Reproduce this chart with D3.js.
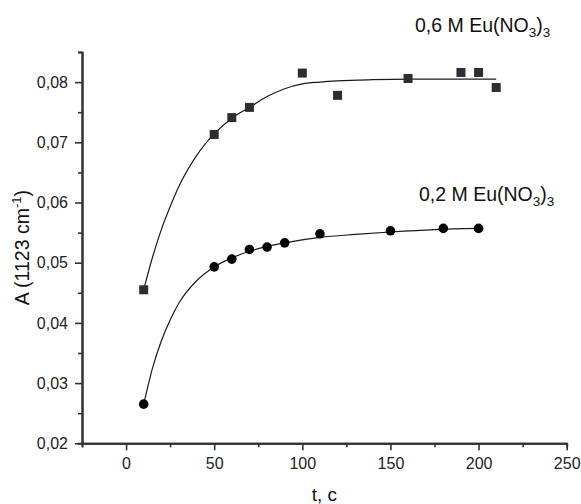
<!DOCTYPE html>
<html>
<head>
<meta charset="utf-8">
<script src="https://cdn.jsdelivr.net/npm/d3@7"></script>
<style>
  html, body { margin: 0; padding: 0; background: #fff; }
  svg { display: block; font-family: "Liberation Sans", Arial, sans-serif; }
</style>
</head>
<body>
<svg id="chart" width="581" height="504"></svg>
<script>
// Absorbance at 1123 cm-1 versus time for two Eu(NO3)3 concentrations
const timeHigh = [10, 50, 60, 70, 100, 120, 160, 190, 200, 210];
const absHigh  = [0.0455, 0.0713, 0.0741, 0.0758, 0.0815, 0.0778, 0.0806, 0.0816, 0.0816, 0.0791];

const timeLow = [10, 50, 60, 70, 80, 90, 110, 150, 180, 200];
const absLow  = [0.0265, 0.0493, 0.0506, 0.0522, 0.0526, 0.0533, 0.0548, 0.0553, 0.0557, 0.0557];

// Smoothed fit curves (time, absorbance)
const fitHighT = [10, 15, 20, 25, 30, 40, 50, 60, 70, 80, 90, 100, 110, 120, 140, 160, 210];
const fitHighA = [0.0455, 0.0509, 0.0555, 0.0593, 0.0627, 0.0678, 0.0714, 0.0740, 0.0758, 0.0776, 0.0789, 0.0797, 0.0800, 0.0802, 0.0804, 0.0805, 0.0805];
const fitLowT = [10, 15, 20, 25, 30, 40, 50, 60, 70, 80, 90, 110, 130, 150, 175, 200];
const fitLowA = [0.0265, 0.0325, 0.0370, 0.0405, 0.0433, 0.0470, 0.0493, 0.0508, 0.0519, 0.0527, 0.0533, 0.0542, 0.0547, 0.0551, 0.0555, 0.0557];

const xMajor = [0, 50, 100, 150, 200, 250];
const xMinor = [-25, 25, 75, 125, 175, 225];
const yMajor = [0.02, 0.03, 0.04, 0.05, 0.06, 0.07, 0.08];
const yMinor = [0.025, 0.035, 0.045, 0.055, 0.065, 0.075, 0.085];

const svg = d3.select("#chart");
const axisColor = "#333";

const x = d3.scaleLinear().domain([-25, 250]).range([82, 566.7]);
const y = d3.scaleLinear().domain([0.02, 0.085]).range([443.3, 52]);

const comma = v => d3.format(".2f")(v).replace(".", ",");

function styleAxis(g) {
  g.selectAll("path.domain").attr("stroke", axisColor).attr("stroke-width", 2);
  g.selectAll(".tick line").attr("stroke", axisColor).attr("stroke-width", 1.6);
  g.selectAll(".tick text").attr("fill", "#222").style("font-size", "16px")
    .style("font-family", "'Liberation Sans', Arial, sans-serif");
}

// Minor ticks
svg.append("g").attr("transform", `translate(0,${y(0.02)})`)
  .call(d3.axisBottom(x).tickValues(xMinor).tickSize(4).tickFormat(""))
  .call(styleAxis);
svg.append("g").attr("transform", `translate(${x(-25)},0)`)
  .call(d3.axisLeft(y).tickValues(yMinor).tickSize(4).tickFormat(""))
  .call(styleAxis);

// Major ticks with labels
svg.append("g").attr("transform", `translate(0,${y(0.02)})`)
  .call(d3.axisBottom(x).tickValues(xMajor).tickSize(7).tickSizeOuter(0).tickPadding(7).tickFormat(d3.format("d")))
  .call(styleAxis);
svg.append("g").attr("transform", `translate(${x(-25)},0)`)
  .call(d3.axisLeft(y).tickValues(yMajor).tickSize(7).tickSizeOuter(0).tickPadding(7).tickFormat(comma))
  .call(styleAxis);

// Fit curves
const line = d3.line().x(d => x(d[0])).y(d => y(d[1])).curve(d3.curveMonotoneX);
svg.append("path").datum(d3.zip(fitHighT, fitHighA))
  .attr("d", line).attr("fill", "none").attr("stroke", "#1a1a1a").attr("stroke-width", 1.2);
svg.append("path").datum(d3.zip(fitLowT, fitLowA))
  .attr("d", line).attr("fill", "none").attr("stroke", "#1a1a1a").attr("stroke-width", 1.2);

// Markers
const sq = 9;
svg.append("g").selectAll("rect").data(d3.zip(timeHigh, absHigh)).join("rect")
  .attr("x", d => x(d[0]) - sq / 2).attr("y", d => y(d[1]) - sq / 2)
  .attr("width", sq).attr("height", sq).attr("fill", "#2b2e33");
svg.append("g").selectAll("circle").data(d3.zip(timeLow, absLow)).join("circle")
  .attr("cx", d => x(d[0])).attr("cy", d => y(d[1])).attr("r", 4.8).attr("fill", "#000");

// Series labels with subscripts
function seriesLabel(tx, ty, conc) {
  const t = svg.append("text").attr("x", tx).attr("y", ty)
    .attr("fill", "#111").style("font-size", "19.5px");
  t.append("tspan").text(conc + " M Eu(NO");
  t.append("tspan").text("3").style("font-size", "13.5px").attr("dy", 5);
  t.append("tspan").text(")").attr("dy", -5);
  t.append("tspan").text("3").style("font-size", "13.5px").attr("dy", 5);
}
seriesLabel(415, 32, "0,6");
seriesLabel(419, 201, "0,2");

// Axis titles
svg.append("text").attr("x", (x(-25) + x(250)) / 2).attr("y", 501)
  .attr("text-anchor", "middle").attr("fill", "#111").style("font-size", "19px").text("t, c");

const yt = svg.append("text")
  .attr("transform", `translate(29,${(y(0.02) + y(0.085)) / 2}) rotate(-90)`)
  .attr("text-anchor", "middle").attr("fill", "#111").style("font-size", "19.5px");
yt.append("tspan").text("A (1123 cm");
yt.append("tspan").text("-1").style("font-size", "13px").attr("dy", -8);
yt.append("tspan").text(")").attr("dy", 8);
</script>
</body>
</html>
